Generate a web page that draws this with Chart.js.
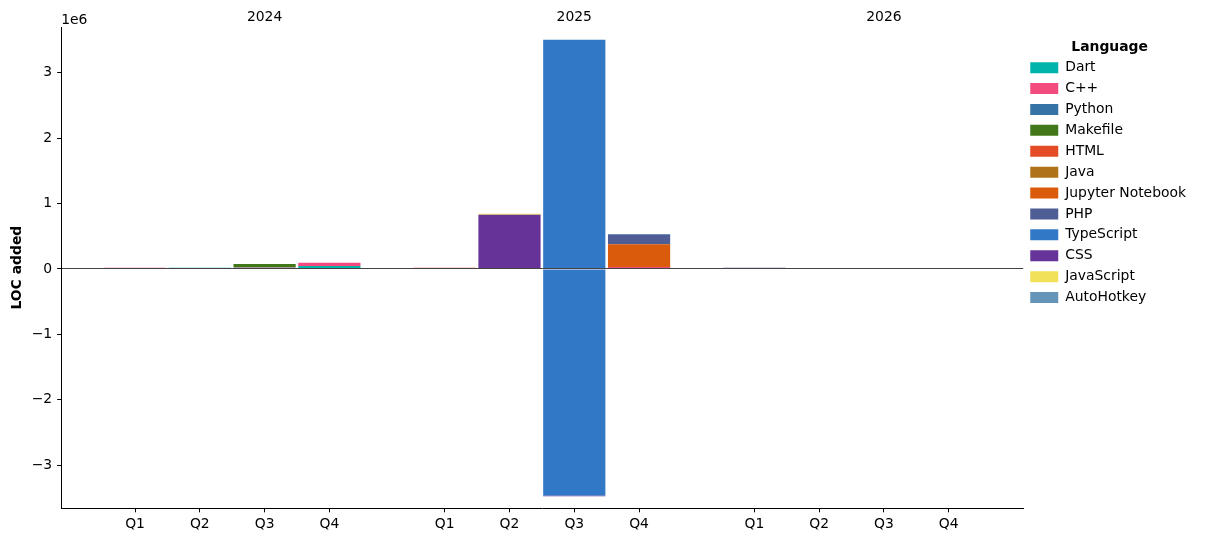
<!DOCTYPE html>
<html>
<head>
<meta charset="utf-8">
<script src="https://cdn.jsdelivr.net/npm/chart.js@4.4.1/dist/chart.umd.min.js"></script>
<style>
  html, body { margin: 0; padding: 0; background: #fff; }
  #wrap { width: 1207px; height: 542px; }
</style>
</head>
<body>
<div id="wrap"><canvas id="chart" width="1207" height="542"></canvas></div>
<script>
// ---- data ----
const years = ['2024', '2025', '2026'];
const quarters = ['Q1', 'Q2', 'Q3', 'Q4'];

const languages = ['Dart', 'C++', 'Python', 'Makefile', 'HTML', 'Java',
  'Jupyter Notebook', 'PHP', 'TypeScript', 'CSS', 'JavaScript', 'AutoHotkey'];
const langColors = ['#00b4ab', '#f34b7d', '#3572a5', '#427819', '#e34c26', '#b07219',
  '#da5b0b', '#4f5d95', '#3178c6', '#663399', '#f1e05a', '#6594b9'];

// LOC per quarter: 2024 Q1..Q4, 2025 Q1..Q4, 2026 Q1..Q4
const dart       = [0, 18000, 20000, 46000,   0, 0, 0, 15000,        0, 0, 0, 0];
const cpp        = [20000, 0, 8000, 50000,    0, 0, 0, 15000,        0, 0, 0, 0];
const python     = [0, 0, 0, 0,               0, 0, 0, 0,            0, 0, 0, 0];
const makefile   = [0, 0, 48000, 0,           0, 0, 0, 0,            0, 0, 0, 0];
const html       = [0, 0, 0, 0,               20000, 0, 0, 0,        0, 0, 0, 0];
const java       = [0, 0, 0, 0,               0, 0, 0, 0,            0, 0, 0, 0];
const jupyter    = [0, 0, 0, 0,               0, 0, 0, 348000,       0, 0, 0, 0];
const php        = [0, 0, 0, 0,               0, 0, 0, 148000,       18000, 0, 0, 0];
const typescript = [0, 0, 0, 0,               0, 0, 3505000, 10000,  0, 0, 0, 0];
const css        = [0, 0, 0, 0,               0, 830000, 0, 0,       0, 0, 0, 0];
const javascript = [0, 0, 0, 0,               0, 15000, 0, 0,        0, 0, 0, 0];
const autohotkey = [0, 0, 0, 0,               0, 0, 0, 0,            0, 0, 0, 0];

// negative side of 2025 Q3
const typescriptNeg = [0, 0, 0, 0,            0, 0, -3463000, 0,     0, 0, 0, 0];
const cssNeg        = [0, 0, 0, 0,            0, 0, -13000, 0,       0, 0, 0, 0];

const yTicks = [-3e6, -2e6, -1e6, 0, 1e6, 2e6, 3e6];

const series = [dart, cpp, python, makefile, html, java, jupyter, php,
  typescript, css, javascript, autohotkey];

// ---- layout of quarters along x ----
const yearGap = 0.78;
const xPos = [];
const xLabels = [];
years.forEach((y, g) => {
  quarters.forEach((q, i) => {
    xPos.push(g * (quarters.length + yearGap) + i);
    xLabels.push(q);
  });
});
const yearPos = years.map((y, g) => g * (quarters.length + yearGap) + 2);
const xMin = xPos[0] - 1.14;
const xMax = xPos[xPos.length - 1] + 1.15;

function toPoints(arr) {
  return arr.map((v, i) => ({ x: xPos[i], y: v }));
}

const datasets = series.map((arr, i) => ({
  label: languages[i],
  data: toPoints(arr),
  backgroundColor: langColors[i],
  borderWidth: 0,
  stack: 'loc'
}));
datasets.push({ label: 'TypeScript', data: toPoints(typescriptNeg), backgroundColor: langColors[8], borderWidth: 0, stack: 'loc' });
datasets.push({ label: 'CSS', data: toPoints(cssNeg), backgroundColor: langColors[9], borderWidth: 0, stack: 'loc' });

const fontSize = 13.9;
const font = { family: 'DejaVu Sans', size: fontSize };

// "1e6" offset text and the year labels over each group
const extraLabels = {
  id: 'extraLabels',
  afterDraw(chart) {
    const ctx = chart.ctx;
    const a = chart.chartArea;
    const xs = chart.scales.x;
    ctx.save();
    ctx.font = fontSize + 'px "DejaVu Sans"';
    ctx.fillStyle = '#000';
    ctx.textAlign = 'left';
    ctx.textBaseline = 'middle';
    ctx.fillText('1e6', a.left, a.top - 7);
    ctx.textAlign = 'center';
    years.forEach((y, i) => {
      ctx.fillText(y, xs.getPixelForValue(yearPos[i]), a.top - 10);
    });
    ctx.restore();
  }
};

new Chart(document.getElementById('chart'), {
  type: 'bar',
  data: { datasets },
  plugins: [extraLabels],
  options: {
    responsive: false,
    animation: false,
    barPercentage: 0.96,
    categoryPercentage: 1,
    layout: { padding: { top: 27, right: 11, left: 9, bottom: 5 } },
    plugins: {
      tooltip: { enabled: false },
      legend: {
        position: 'right',
        align: 'start',
        labels: {
          boxWidth: 28,
          boxHeight: 11,
          padding: 7,
          color: '#000',
          font,
          filter: item => item.datasetIndex < languages.length
        },
        title: {
          display: true,
          text: 'Language',
          color: '#000',
          padding: { top: 13, bottom: -3 },
          font: { family: 'DejaVu Sans', size: fontSize, weight: 'bold' }
        }
      }
    },
    scales: {
      x: {
        type: 'linear',
        stacked: true,
        min: xMin,
        max: xMax,
        offset: false,
        afterBuildTicks: s => { s.ticks = xPos.map(v => ({ value: v })); },
        ticks: {
          autoSkip: false,
          maxRotation: 0,
          color: '#000',
          font,
          padding: 4,
          callback: (v, i) => xLabels[i]
        },
        grid: { offset: false, drawOnChartArea: false, tickLength: 4, color: '#000' },
        border: { display: true, color: '#000', width: 1 }
      },
      y: {
        stacked: true,
        min: -3.66e6,
        max: 3.70e6,
        afterBuildTicks: s => { s.ticks = yTicks.map(v => ({ value: v })); },
        ticks: {
          color: '#000',
          font,
          padding: 5,
          callback: v => {
            const n = v / 1e6;
            return n < 0 ? '\u2212' + Math.abs(n) : String(n);
          }
        },
        grid: {
          z: 1,
          tickLength: 4,
          tickColor: '#000',
          color: c => (c.tick && c.tick.value === 0) ? '#444' : 'rgba(0,0,0,0)',
          lineWidth: 1
        },
        border: { z: 1, display: true, color: '#000', width: 1 },
        title: {
          display: true,
          text: 'LOC added',
          color: '#000',
          font: { family: 'DejaVu Sans', size: fontSize, weight: 'bold' },
          padding: { top: 0, bottom: 1 }
        }
      }
    }
  }
});
</script>
</body>
</html>
